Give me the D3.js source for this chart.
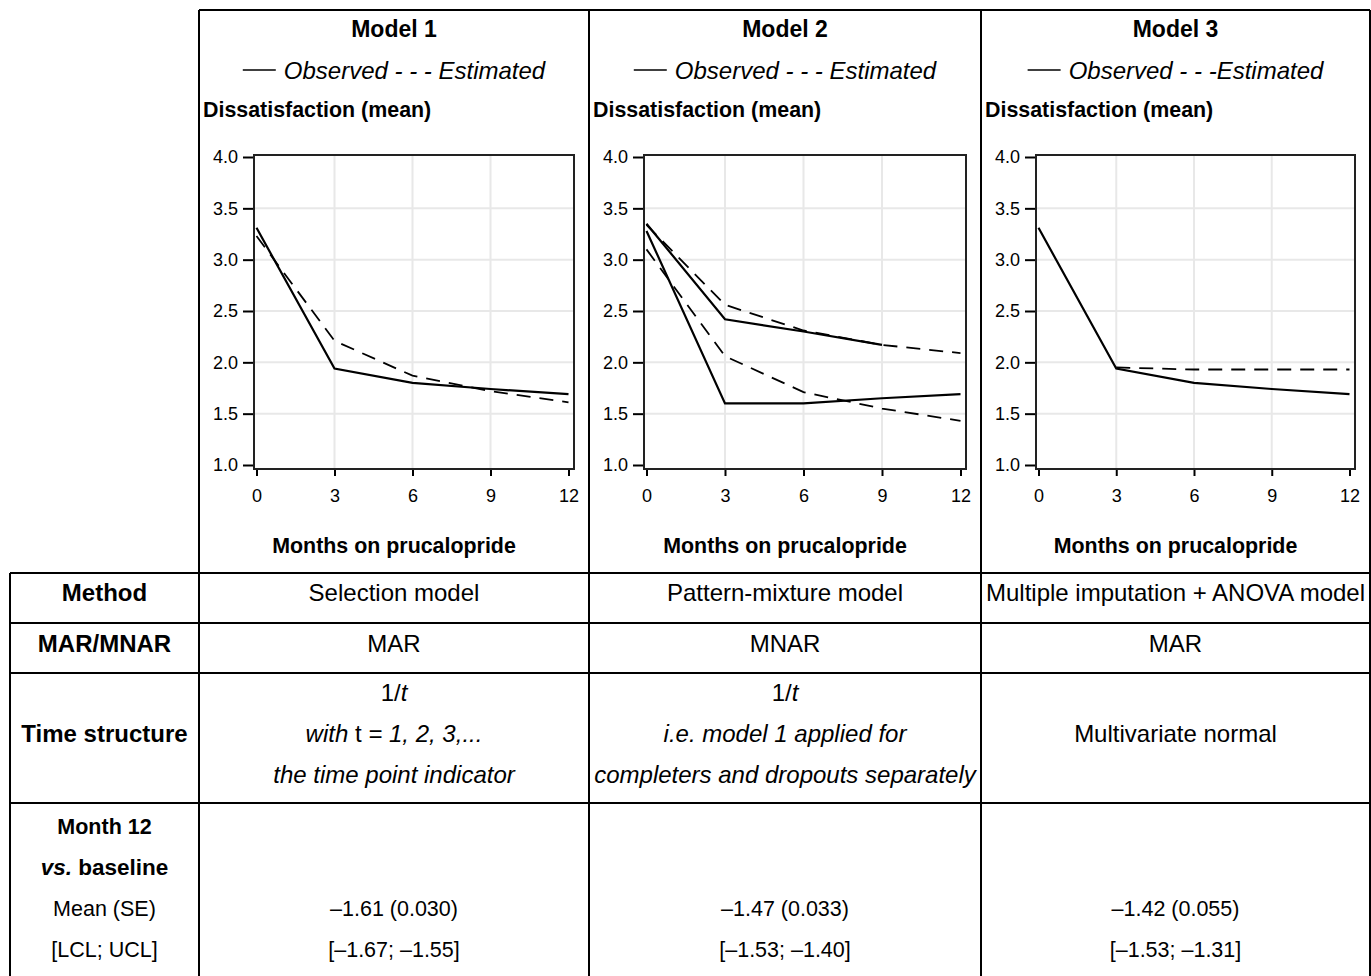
<!DOCTYPE html>
<html>
<head>
<meta charset="utf-8">
<script src="https://cdn.jsdelivr.net/npm/d3@7"></script>
<style>
  body { margin: 0; background: #fff; }
  svg { display: block; font-family: "Liberation Sans", Arial, sans-serif; }
  .tick text { font-size: 18px; fill: #000; }
  .grid line { stroke: #e8e8e8; stroke-width: 2; }
</style>
</head>
<body>
<div id="chart"></div>
<script>
// data
var months = [0, 3, 6, 9, 12];
var yTickValues = [1.0, 1.5, 2.0, 2.5, 3.0, 3.5, 4.0];
var modelTitles = ["Model 1", "Model 2", "Model 3"];
var legendLabels = ["Observed - - - Estimated", "Observed - - - Estimated", "Observed - - -Estimated"];

var model1Observed = [3.31, 1.94, 1.80, 1.74, 1.69];
var model1Estimated = [3.23, 2.21, 1.87, 1.72, 1.61];

var model2ObservedLow = [3.28, 1.60, 1.60, 1.65, 1.69];
var model2EstimatedLow = [3.10, 2.06, 1.71, 1.55, 1.43];
var model2ObservedHigh = [3.35, 2.42, 2.30, 2.17, null];
var model2EstimatedHigh = [3.34, 2.56, 2.31, 2.17, 2.09];

var model3Observed = [3.31, 1.94, 1.80, 1.74, 1.69];
var model3Estimated = [null, 1.95, 1.93, 1.93, 1.93];

var methods = ["Selection model", "Pattern-mixture model", "Multiple imputation + ANOVA model"];
var missingness = ["MAR", "MNAR", "MAR"];
var meanSE = ["\u20131.61 (0.030)", "\u20131.47 (0.033)", "\u20131.42 (0.055)"];
var limits = ["[\u20131.67; \u20131.55]", "[\u20131.53; \u20131.40]", "[\u20131.53; \u20131.31]"];

var panelSeries = [
  [{ values: model1Observed, dashed: false }, { values: model1Estimated, dashed: true }],
  [{ values: model2ObservedLow, dashed: false }, { values: model2EstimatedLow, dashed: true },
   { values: model2ObservedHigh, dashed: false }, { values: model2EstimatedHigh, dashed: true }],
  [{ values: model3Observed, dashed: false }, { values: model3Estimated, dashed: true }]
];

// layout
var width = 1371, height = 976;
var colX = [10, 199, 589, 981, 1370];
var rowY = [573, 623, 673, 803, 990];
var font = 21.4;    // chart labels
var bigFont = 24;   // upper table rows
var smallFont = 21.5; // month 12 row

var svg = d3.select("#chart").append("svg")
  .attr("width", width)
  .attr("height", height);

// table borders
var borders = svg.append("g").attr("class", "borders")
  .attr("stroke", "#000").attr("stroke-width", 2);

borders.append("line").attr("x1", colX[1]).attr("x2", colX[4]).attr("y1", 10).attr("y2", 10);
rowY.slice(0, 4).forEach(function(y) {
  borders.append("line").attr("x1", colX[0]).attr("x2", colX[4]).attr("y1", y).attr("y2", y);
});
colX.forEach(function(x, i) {
  borders.append("line")
    .attr("x1", x).attr("x2", x)
    .attr("y1", i == 0 ? rowY[0] : 10)
    .attr("y2", height + 5);
});

// one panel per model
var renderPanel = function(i) {
  var x0 = colX[i + 1], x1 = colX[i + 2];
  var cx = (x0 + x1) / 2;
  var frame = { left: x0 + 55, right: x1 - 15, top: 155, bottom: 469 };

  var g = svg.append("g").attr("class", "panel panel-" + i);

  g.append("text")
    .attr("x", cx).attr("y", 29)
    .attr("dy", "0.35em")
    .attr("text-anchor", "middle")
    .attr("font-weight", "bold")
    .attr("font-size", 23)
    .text(modelTitles[i]);

  // legend: line sample + italic text, centred in column
  var legend = g.append("g").attr("class", "legend");
  var legendText = legend.append("text")
    .attr("y", 71)
    .attr("dy", "0.35em")
    .attr("font-style", "italic")
    .attr("font-size", 24)
    .text(legendLabels[i]);
  var textW = legendText.node().getComputedTextLength();
  var sampleW = 33, gap = 8;
  var startX = cx - (sampleW + gap + textW) / 2;
  legend.append("line")
    .attr("x1", startX).attr("x2", startX + sampleW)
    .attr("y1", 70).attr("y2", 70)
    .attr("stroke", "#000").attr("stroke-width", 1.5);
  legendText.attr("x", startX + sampleW + gap);

  g.append("text")
    .attr("x", x0 + 4).attr("y", 110)
    .attr("dy", "0.35em")
    .attr("font-weight", "bold")
    .attr("font-size", font)
    .text("Dissatisfaction (mean)");

  var xScale = d3.scaleLinear()
    .domain([0, 12])
    .range([frame.left + 2.5, frame.right - 5.5]);

  var yScale = d3.scaleLinear()
    .domain([1, 4])
    .range([frame.bottom - 4, frame.top + 2]);

  // grid
  var grid = g.append("g").attr("class", "grid");
  grid.selectAll(".gx").data(months.slice(1, -1)).enter()
    .append("line")
    .attr("x1", d => xScale(d)).attr("x2", d => xScale(d))
    .attr("y1", frame.top).attr("y2", frame.bottom);
  grid.selectAll(".gy").data(yTickValues.slice(1, -1)).enter()
    .append("line")
    .attr("x1", frame.left).attr("x2", frame.right)
    .attr("y1", d => yScale(d)).attr("y2", d => yScale(d));

  // axes
  var yAxis = d3.axisLeft(yScale)
    .tickValues(yTickValues)
    .tickSize(11)
    .tickPadding(5)
    .tickFormat(d3.format(".1f"));

  var xAxis = d3.axisBottom(xScale)
    .tickValues(months)
    .tickSize(7)
    .tickPadding(13)
    .tickFormat(d => d);

  var yG = g.append("g")
    .attr("class", "y axis")
    .attr("transform", `translate(${frame.left},0)`)
    .call(yAxis);
  var xG = g.append("g")
    .attr("class", "x axis")
    .attr("transform", `translate(0,${frame.bottom})`)
    .call(xAxis);
  [yG, xG].forEach(function(a) {
    a.select(".domain").remove();
    a.selectAll(".tick line").attr("stroke", "#000").attr("stroke-width", 2);
  });

  g.append("rect")
    .attr("class", "frame")
    .attr("x", frame.left).attr("y", frame.top)
    .attr("width", frame.right - frame.left)
    .attr("height", frame.bottom - frame.top)
    .attr("fill", "none")
    .attr("stroke", "#222")
    .attr("stroke-width", 2);

  // lines
  var line = d3.line()
    .defined(d => d.v != null)
    .x(d => xScale(d.m))
    .y(d => yScale(d.v));

  g.append("g").attr("class", "series")
    .selectAll("path")
    .data(panelSeries[i])
    .enter()
    .append("path")
    .attr("fill", "none")
    .attr("stroke", "#000")
    .attr("stroke-width", d => d.dashed ? 1.8 : 2.2)
    .attr("stroke-dasharray", d => d.dashed ? "14,9" : null)
    .attr("d", d => line(d.values.map((v, j) => ({ m: months[j], v: v }))));

  g.append("text")
    .attr("x", cx).attr("y", 546)
    .attr("dy", "0.35em")
    .attr("text-anchor", "middle")
    .attr("font-weight", "bold")
    .attr("font-size", font)
    .text("Months on prucalopride");
};

[0, 1, 2].forEach(renderPanel);

// lower table text
var table = svg.append("g").attr("class", "table");

var cellText = function(x, y, parts, bold, size) {
  var t = table.append("text")
    .attr("x", x).attr("y", y)
    .attr("dy", "0.35em")
    .attr("text-anchor", "middle")
    .attr("font-size", size || bigFont)
    .attr("font-weight", bold ? "bold" : null);
  parts.forEach(function(p) {
    t.append("tspan")
      .attr("font-style", p.italic ? "italic" : null)
      .text(p.text);
  });
  return t;
};

var labelX = (colX[0] + colX[1]) / 2;
var centers = [0, 1, 2].map(i => (colX[i + 1] + colX[i + 2]) / 2);

cellText(labelX, 593, [{ text: "Method" }], true);
cellText(labelX, 644, [{ text: "MAR/MNAR" }], true);
cellText(labelX, 734, [{ text: "Time structure" }], true);
cellText(labelX, 826, [{ text: "Month 12" }], true, smallFont);
cellText(labelX, 867, [{ text: "vs.", italic: true }, { text: " baseline" }], true, 22.5);
cellText(labelX, 908, [{ text: "Mean (SE)" }], false, smallFont);
cellText(labelX, 949, [{ text: "[LCL; UCL]" }], false, smallFont);

centers.forEach(function(x, i) {
  cellText(x, 593, [{ text: methods[i] }]);
  cellText(x, 644, [{ text: missingness[i] }]);
  cellText(x, 908, [{ text: meanSE[i] }], false, smallFont);
  cellText(x, 949, [{ text: limits[i] }], false, smallFont);
});

// time structure cells
cellText(centers[0], 693, [{ text: "1/" }, { text: "t", italic: true }]);
cellText(centers[0], 734, [{ text: "with", italic: true }, { text: " t " }, { text: "= 1, 2, 3,...", italic: true }]);
cellText(centers[0], 775, [{ text: "the time point indicator", italic: true }]);
cellText(centers[1], 693, [{ text: "1/" }, { text: "t", italic: true }]);
cellText(centers[1], 734, [{ text: "i.e. model 1 applied for", italic: true }]);
cellText(centers[1], 775, [{ text: "completers and dropouts separately", italic: true }]);
cellText(centers[2], 734, [{ text: "Multivariate normal" }]);
</script>
</body>
</html>
